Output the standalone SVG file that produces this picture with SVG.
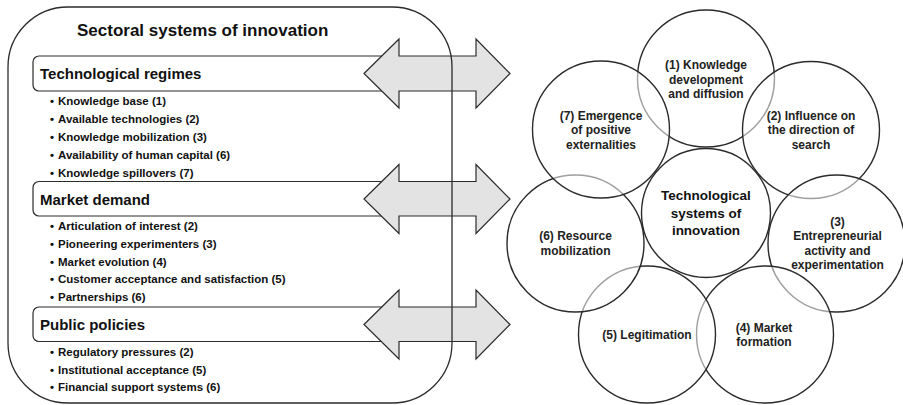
<svg xmlns="http://www.w3.org/2000/svg" width="903" height="405" viewBox="0 0 903 405">
<defs>
<style>
.frame{fill:none;stroke:#2b2b2b;stroke-width:1.3}
.hbox{fill:#fff;stroke:#2b2b2b;stroke-width:1.2}
.arrow{fill:#e3e3e3;stroke:#2b2b2b;stroke-width:1.2;stroke-linejoin:miter}
.circ{fill:#fff;fill-opacity:0.55;stroke:#2b2b2b;stroke-width:1.4}
.title{font-family:"Liberation Sans",Arial,sans-serif;font-weight:bold;font-size:17px;fill:#111}
.head{font-family:"Liberation Sans",Arial,sans-serif;font-weight:bold;font-size:15px;fill:#111}
.item{font-family:"Liberation Sans",Arial,sans-serif;font-weight:bold;font-size:11.5px;fill:#111}
.ctext{font-family:"Liberation Sans",Arial,sans-serif;font-weight:bold;font-size:12px;fill:#222;text-anchor:middle}
.cbig{font-family:"Liberation Sans",Arial,sans-serif;font-weight:bold;font-size:13.5px;fill:#111;text-anchor:middle}
</style>
</defs>
<rect width="903" height="405" fill="#fff"/>

<g id="technological-regimes">
<rect class="hbox" x="33" y="56" width="370" height="35" rx="6"/>
<text class="head" x="40" y="79">Technological regimes</text>
<text class="item" y="105"><tspan x="50">•</tspan><tspan x="58">Knowledge base (1)</tspan></text>
<text class="item" y="123"><tspan x="50">•</tspan><tspan x="58">Available technologies (2)</tspan></text>
<text class="item" y="140.5"><tspan x="50">•</tspan><tspan x="58">Knowledge mobilization (3)</tspan></text>
<text class="item" y="158.5"><tspan x="50">•</tspan><tspan x="58">Availability of human capital (6)</tspan></text>
<text class="item" y="176.5"><tspan x="50">•</tspan><tspan x="58">Knowledge spillovers (7)</tspan></text>
</g>

<g id="market-demand">
<rect class="hbox" x="33" y="181.5" width="370" height="34.5" rx="6"/>
<text class="head" x="40" y="204.5">Market demand</text>
<text class="item" y="229.7"><tspan x="50">•</tspan><tspan x="58">Articulation of interest (2)</tspan></text>
<text class="item" y="247.5"><tspan x="50">•</tspan><tspan x="58">Pioneering experimenters  (3)</tspan></text>
<text class="item" y="265.5"><tspan x="50">•</tspan><tspan x="58">Market evolution (4)</tspan></text>
<text class="item" y="283.3"><tspan x="50">•</tspan><tspan x="58">Customer acceptance and satisfaction (5)</tspan></text>
<text class="item" y="301.3"><tspan x="50">•</tspan><tspan x="58">Partnerships (6)</tspan></text>
</g>

<g id="public-policies">
<rect class="hbox" x="33" y="307" width="370" height="34.5" rx="6"/>
<text class="head" x="40" y="330">Public policies</text>
<text class="item" y="355.7"><tspan x="50">•</tspan><tspan x="58">Regulatory pressures (2)</tspan></text>
<text class="item" y="374"><tspan x="50">•</tspan><tspan x="58">Institutional acceptance (5)</tspan></text>
<text class="item" y="390.7"><tspan x="50">•</tspan><tspan x="58">Financial  support systems (6)</tspan></text>
</g>

<g id="connectors">
<polygon class="arrow" points="364,73.5 399,39 399,56 476,56 476,39 510,73.5 476,108 476,91 399,91 399,108"/>
<polygon class="arrow" points="364,199 399,164.5 399,181.5 476,181.5 476,164.5 510,199 476,233.5 476,216 399,216 399,233.5"/>
<polygon class="arrow" points="364,324.5 399,290 399,307 476,307 476,290 510,324.5 476,359 476,341.5 399,341.5 399,359"/>
</g>

<g id="sectoral-systems">
<rect class="frame" x="8" y="7" width="444" height="396" rx="60"/>
<text class="title" x="77" y="36">Sectoral systems of innovation</text>
</g>

<g id="f1-knowledge-development">
<circle class="circ" cx="706" cy="78.5" r="68.5"/>
<text class="ctext" x="706" y="68.5">(1) Knowledge</text>
<text class="ctext" x="706" y="83.5">development</text>
<text class="ctext" x="706" y="97.5">and diffusion</text>
</g>
<g id="f2-direction-of-search">
<circle class="circ" cx="811" cy="130" r="68.5"/>
<text class="ctext" x="811" y="119.5">(2) Influence on</text>
<text class="ctext" x="811" y="133.8">the direction of</text>
<text class="ctext" x="811" y="148.5">search</text>
</g>
<g id="f3-entrepreneurial-activity">
<circle class="circ" cx="836.5" cy="243.5" r="68.5"/>
<text class="ctext" x="837.5" y="226">(3)</text>
<text class="ctext" x="837.5" y="240.3">Entrepreneurial</text>
<text class="ctext" x="837.5" y="255">activity and</text>
<text class="ctext" x="837.5" y="269.3">experimentation</text>
</g>
<g id="f4-market-formation">
<circle class="circ" cx="765" cy="334.5" r="68.5"/>
<text class="ctext" x="764" y="332">(4) Market</text>
<text class="ctext" x="764" y="346">formation</text>
</g>
<g id="f5-legitimation">
<circle class="circ" cx="647" cy="334.5" r="68.5"/>
<text class="ctext" x="647" y="339.3">(5) Legitimation</text>
</g>
<g id="f6-resource-mobilization">
<circle class="circ" cx="575.5" cy="243.5" r="68.5"/>
<text class="ctext" x="575.5" y="240.3">(6) Resource</text>
<text class="ctext" x="575.5" y="255">mobilization</text>
</g>
<g id="f7-positive-externalities">
<circle class="circ" cx="601" cy="129.5" r="68.5"/>
<text class="ctext" x="601" y="119.5">(7) Emergence</text>
<text class="ctext" x="601" y="133.8">of positive</text>
<text class="ctext" x="601" y="148.5">externalities</text>
</g>
<g id="technological-systems">
<circle class="circ" cx="706" cy="213" r="64.5"/>
<text class="cbig" x="706" y="200">Technological</text>
<text class="cbig" x="706" y="217.5">systems of</text>
<text class="cbig" x="706" y="235">innovation</text>
</g>
</svg>
